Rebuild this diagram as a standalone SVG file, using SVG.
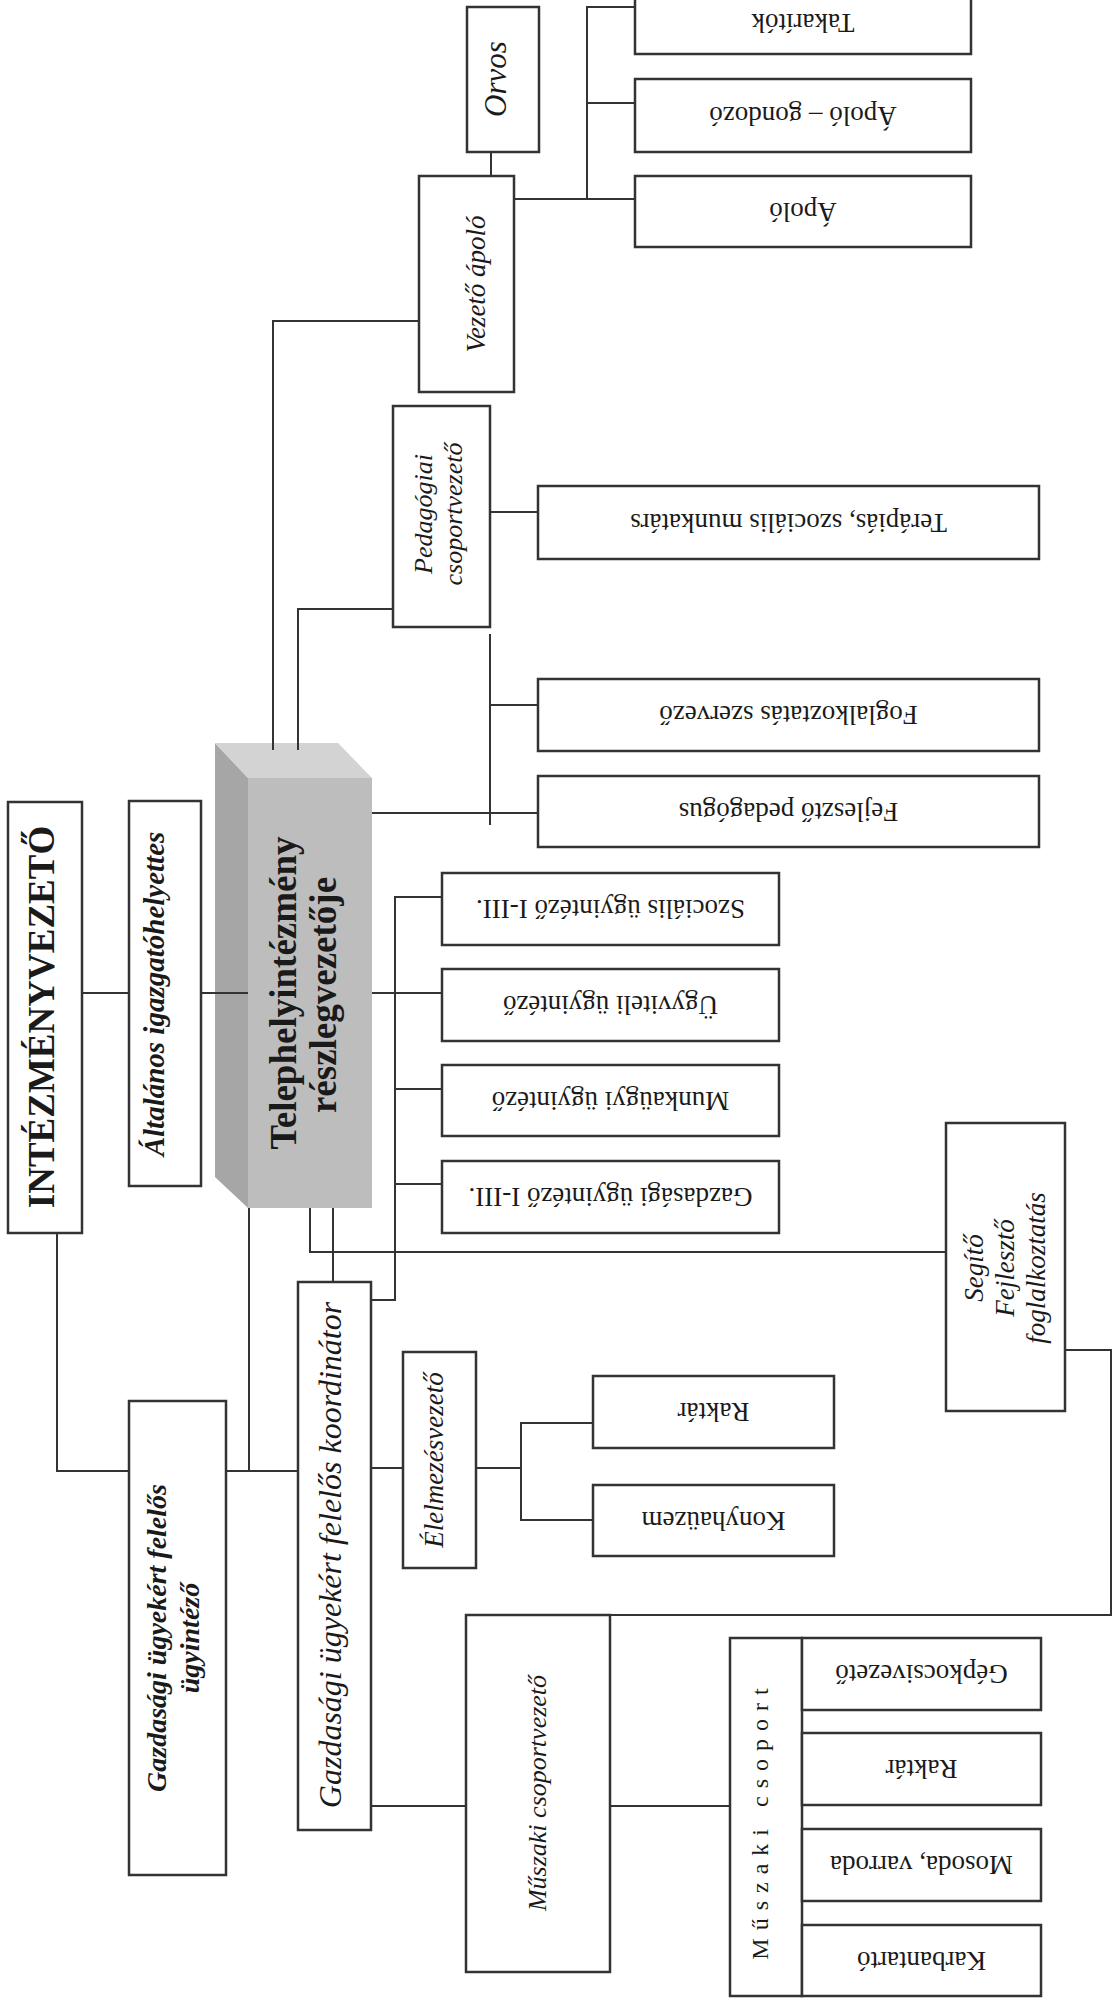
<svg xmlns="http://www.w3.org/2000/svg" width="1112" height="2010" viewBox="0 0 1112 2010">
<style>
.box{fill:#fff;stroke:#333;stroke-width:2.5}
.ln{fill:none;stroke:#333;stroke-width:2}
text{font-family:"Liberation Serif","Times New Roman",serif;fill:#1a1a1a}
.b{font-weight:bold}
.i{font-style:italic}
.m{text-anchor:middle}
.r{font-size:27px}
</style>
<rect width="1112" height="2010" fill="#fff"/>

<g id="n-intezmenyvezeto">
<rect class="box" x="8" y="802" width="74" height="431"/>
<text class="b m" font-size="37" transform="translate(54,1017) rotate(-90)">INTÉZMÉNYVEZETŐ</text>
</g>
<g id="n-altalanos">
<rect class="box" x="129" y="801" width="72" height="385"/>
<text class="b i m" font-size="29" transform="translate(164,994) rotate(-90)">Általános igazgatóhelyettes</text>
</g>
<g id="n-telephely">
<polygon points="215,743 248,778 248,1208 215,1177" fill="#a6a6a6"/>
<polygon points="215,743 338,743 372,778 248,778" fill="#d3d3d3"/>
<rect x="248" y="778" width="124" height="430" fill="#bdbdbd"/>
<text class="b m" font-size="37" transform="translate(296,993) rotate(-90)">Telephelyintézmény</text>
<text class="b m" font-size="37" transform="translate(336,995) rotate(-90)">részlegvezetője</text>
</g>
<g id="n-gazd-ugyintezo">
<rect class="box" x="129" y="1401" width="97" height="474"/>
<text class="b i m" font-size="28" transform="translate(166,1638) rotate(-90)">Gazdasági ügyekért felelős</text>
<text class="b i m" font-size="28" transform="translate(199,1638) rotate(-90)">ügyintéző</text>
</g>
<g id="n-koordinator">
<rect class="box" x="298" y="1282" width="73" height="548"/>
<text class="i m" font-size="32" transform="translate(341,1555) rotate(-90)">Gazdasági ügyekért felelős koordinátor</text>
</g>
<g id="n-elelmezes">
<rect class="box" x="403" y="1352" width="73" height="216"/>
<text class="i m" font-size="27" transform="translate(443,1460) rotate(-90)">Élelmezésvezető</text>
</g>
<g id="n-raktar1">
<rect class="box" x="593" y="1376" width="241" height="72"/>
<text class="r m" transform="translate(713.5,1403) rotate(180)">Raktár</text>
</g>
<g id="n-konyha">
<rect class="box" x="593" y="1485" width="241" height="71"/>
<text class="r m" transform="translate(713.5,1511.5) rotate(180)">Konyhaüzem</text>
</g>
<g id="n-muszaki-vezeto">
<rect class="box" x="466" y="1615" width="144" height="357"/>
<text class="i m" font-size="26" transform="translate(546,1793) rotate(-90)">Műszaki csoportvezető</text>
</g>
<g id="n-muszaki-csoport">
<rect class="box" x="730" y="1638" width="72" height="358"/>
<text class="m" font-size="24" letter-spacing="8" transform="translate(768,1820) rotate(-90)">Műszaki csoport</text>
<rect class="box" x="802" y="1638" width="239" height="72"/>
<text class="r m" transform="translate(921.5,1665) rotate(180)">Gépkocsivezető</text>
<rect class="box" x="802" y="1733" width="239" height="72"/>
<text class="r m" transform="translate(921.5,1760) rotate(180)">Raktár</text>
<rect class="box" x="802" y="1829" width="239" height="72"/>
<text class="r m" transform="translate(921.5,1856) rotate(180)">Mosoda, varroda</text>
<rect class="box" x="802" y="1925" width="239" height="71"/>
<text class="r m" transform="translate(921.5,1951.5) rotate(180)">Karbantartó</text>
</g>
<g id="n-segito">
<rect class="box" x="946" y="1123" width="119" height="288"/>
<text class="i m" font-size="27" transform="translate(983,1268) rotate(-90)">Segítő</text>
<text class="i m" font-size="27" transform="translate(1014,1268) rotate(-90)">Fejlesztő</text>
<text class="i m" font-size="27" transform="translate(1045,1268) rotate(-90)">foglalkoztatás</text>
</g>
<g id="n-szocialis">
<rect class="box" x="442" y="873" width="337" height="72"/>
<text class="r m" transform="translate(610.5,900) rotate(180)">Szociális ügyintéző I-III.</text>
</g>
<g id="n-ugyviteli">
<rect class="box" x="442" y="969" width="337" height="72"/>
<text class="r m" transform="translate(610.5,996) rotate(180)">Ügyviteli ügyintéző</text>
</g>
<g id="n-munkaugyi">
<rect class="box" x="442" y="1065" width="337" height="71"/>
<text class="r m" transform="translate(610.5,1091.5) rotate(180)">Munkaügyi ügyintéző</text>
</g>
<g id="n-gazdasagi-ugy">
<rect class="box" x="442" y="1161" width="337" height="72"/>
<text class="r m" transform="translate(610.5,1188) rotate(180)">Gazdasági ügyintéző I-III.</text>
</g>
<g id="n-pedagogiai">
<rect class="box" x="393" y="406" width="97" height="221"/>
<text class="i m" font-size="26" transform="translate(432,514) rotate(-90)">Pedagógiai</text>
<text class="i m" font-size="26" transform="translate(462,514) rotate(-90)">csoportvezető</text>
</g>
<g id="n-terapias">
<rect class="box" x="538" y="486" width="501" height="73"/>
<text class="r m" transform="translate(788.5,513.5) rotate(180)">Terápiás, szociális munkatárs</text>
</g>
<g id="n-foglalkoztatas">
<rect class="box" x="538" y="679" width="501" height="72"/>
<text class="r m" transform="translate(788.5,706) rotate(180)">Foglalkoztatás szervező</text>
</g>
<g id="n-fejleszto">
<rect class="box" x="538" y="776" width="501" height="71"/>
<text class="r m" transform="translate(788.5,802.5) rotate(180)">Fejlesztő pedagógus</text>
</g>
<g id="n-vezeto-apolo">
<rect class="box" x="419" y="176" width="95" height="216"/>
<text class="i m" font-size="27" transform="translate(485,284) rotate(-90)">Vezető ápoló</text>
</g>
<g id="n-orvos">
<rect class="box" x="467" y="7" width="72" height="145"/>
<text class="i m" font-size="31" transform="translate(506,79) rotate(-90)">Orvos</text>
</g>
<g id="n-apolo">
<rect class="box" x="635" y="176" width="336" height="71"/>
<text class="r m" transform="translate(803,203) rotate(180)">Ápoló</text>
</g>
<g id="n-apolo-gondozo">
<rect class="box" x="635" y="79" width="336" height="73"/>
<text class="r m" transform="translate(803,106.5) rotate(180)">Ápoló – gondozó</text>
</g>
<g id="n-takaritok">
<rect class="box" x="635" y="-10" width="336" height="64"/>
<text class="r m" transform="translate(803,14) rotate(180)">Takarítók</text>
</g>

<g id="connectors" class="ln">
<path d="M82,993 H129"/>
<path d="M201,993 H248"/>
<path d="M57,1233 V1471 H129"/>
<path d="M226,1471 H298"/>
<path d="M249,1208 V1471"/>
<path d="M273,750 V321 H419"/>
<path d="M298,750 V609 H393"/>
<path d="M491,152 V176"/>
<path d="M514,199 H635"/>
<path d="M587,199 V7 H635"/>
<path d="M587,103 H635"/>
<path d="M490,512 H538"/>
<path d="M490,634 V825"/>
<path d="M490,705 H538"/>
<path d="M372,813 H538"/>
<path d="M372,993 H442"/>
<path d="M442,897 H395 V1300 H371"/>
<path d="M395,1089 H442"/>
<path d="M395,1184 H442"/>
<path d="M310,1208 V1252 H946"/>
<path d="M333,1208 V1282"/>
<path d="M371,1468 H403"/>
<path d="M476,1468 H521"/>
<path d="M593,1423 H521 V1520 H593"/>
<path d="M371,1806 H466"/>
<path d="M610,1806 H730"/>
<path d="M1065,1350 H1111 V1615 H610"/>
</g>
</svg>
